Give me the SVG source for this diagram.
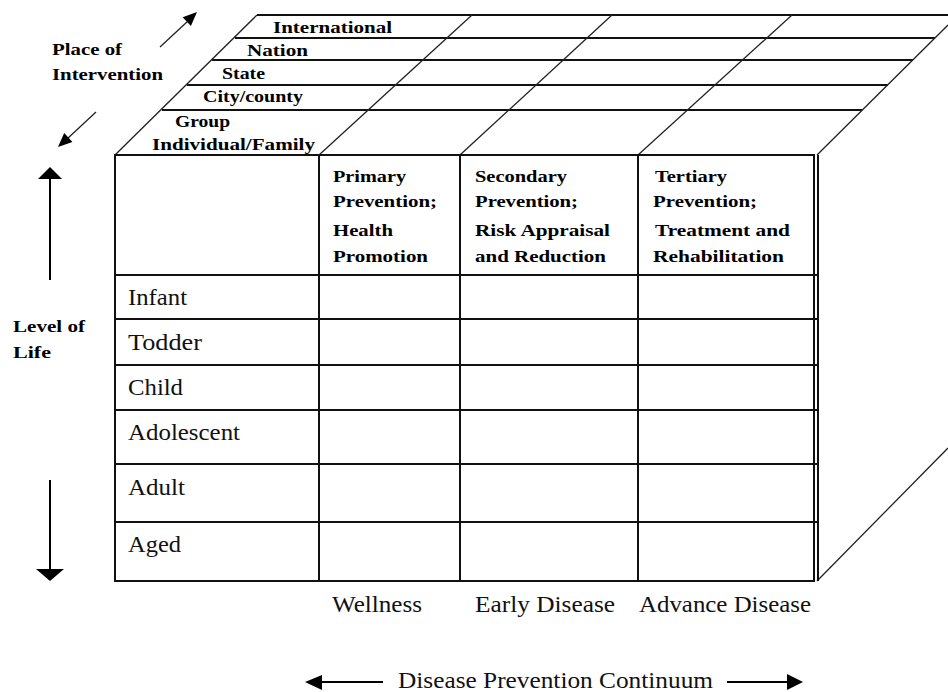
<svg xmlns="http://www.w3.org/2000/svg" width="948" height="692" viewBox="0 0 948 692">
<style>
.ln{stroke:#111;stroke-width:2;fill:none}
.sl{stroke:#222;stroke-width:1.3;fill:none}
.ar{fill:#000;stroke:none}
.b{font-family:"Liberation Serif","Times New Roman",serif;font-weight:bold;font-size:17px;fill:#000}
.r{font-family:"Liberation Serif","Times New Roman",serif;font-size:23px;fill:#111}
</style>
<rect width="948" height="692" fill="#fff"/>
<g id="top-face">
<line class="ln" x1="257" y1="15" x2="948" y2="15"/>
<line class="ln" x1="235" y1="38" x2="935" y2="38"/>
<line class="ln" x1="212" y1="60" x2="913" y2="60"/>
<line class="ln" x1="187" y1="85" x2="888" y2="85"/>
<line class="ln" x1="162" y1="110" x2="862" y2="110"/>
<line class="sl" x1="115" y1="155" x2="257" y2="15"/>
<line class="sl" x1="319" y1="155" x2="472" y2="15"/>
<line class="sl" x1="460" y1="155" x2="612" y2="15"/>
<line class="sl" x1="638" y1="155" x2="792" y2="15"/>
<line class="sl" x1="817" y1="155" x2="948" y2="25"/>
<text class="b" x="273" y="33" textLength="119" lengthAdjust="spacingAndGlyphs">International</text>
<text class="b" x="247" y="56" textLength="61" lengthAdjust="spacingAndGlyphs">Nation</text>
<text class="b" x="222" y="79" textLength="43" lengthAdjust="spacingAndGlyphs">State</text>
<text class="b" x="203" y="102" textLength="100" lengthAdjust="spacingAndGlyphs">City/county</text>
<text class="b" x="175" y="127" textLength="55" lengthAdjust="spacingAndGlyphs">Group</text>
<text class="b" x="152" y="150" textLength="163" lengthAdjust="spacingAndGlyphs">Individual/Family</text>
</g>
<g id="right-face">
<line class="sl" x1="817" y1="581" x2="948" y2="448"/>
</g>
<g id="table">
<rect class="ln" x="115" y="155" width="699" height="426"/>
<line class="ln" x1="818" y1="155" x2="818" y2="581"/>
<line class="ln" x1="319" y1="155" x2="319" y2="581"/>
<line class="ln" x1="460" y1="155" x2="460" y2="581"/>
<line class="ln" x1="638" y1="155" x2="638" y2="581"/>
<line class="ln" x1="115" y1="275" x2="818" y2="275"/>
<line class="ln" x1="115" y1="319" x2="818" y2="319"/>
<line class="ln" x1="115" y1="365" x2="818" y2="365"/>
<line class="ln" x1="115" y1="410" x2="818" y2="410"/>
<line class="ln" x1="115" y1="464" x2="818" y2="464"/>
<line class="ln" x1="115" y1="522" x2="818" y2="522"/>
<text class="b" x="333" y="182" textLength="73" lengthAdjust="spacingAndGlyphs">Primary</text>
<text class="b" x="333" y="207" textLength="104" lengthAdjust="spacingAndGlyphs">Prevention;</text>
<text class="b" x="333" y="236" textLength="60" lengthAdjust="spacingAndGlyphs">Health</text>
<text class="b" x="333" y="262" textLength="95" lengthAdjust="spacingAndGlyphs">Promotion</text>
<text class="b" x="475" y="182" textLength="92" lengthAdjust="spacingAndGlyphs">Secondary</text>
<text class="b" x="475" y="207" textLength="103" lengthAdjust="spacingAndGlyphs">Prevention;</text>
<text class="b" x="475" y="236" textLength="135" lengthAdjust="spacingAndGlyphs">Risk Appraisal</text>
<text class="b" x="475" y="262" textLength="131" lengthAdjust="spacingAndGlyphs">and Reduction</text>
<text class="b" x="655" y="182" textLength="72" lengthAdjust="spacingAndGlyphs">Tertiary</text>
<text class="b" x="653" y="207" textLength="104" lengthAdjust="spacingAndGlyphs">Prevention;</text>
<text class="b" x="655" y="236" textLength="135" lengthAdjust="spacingAndGlyphs">Treatment and</text>
<text class="b" x="653" y="262" textLength="131" lengthAdjust="spacingAndGlyphs">Rehabilitation</text>
<text class="r" x="128" y="305" textLength="59" lengthAdjust="spacingAndGlyphs">Infant</text>
<text class="r" x="128" y="350" textLength="74" lengthAdjust="spacingAndGlyphs">Todder</text>
<text class="r" x="128" y="395" textLength="55" lengthAdjust="spacingAndGlyphs">Child</text>
<text class="r" x="128" y="440" textLength="112" lengthAdjust="spacingAndGlyphs">Adolescent</text>
<text class="r" x="128" y="495" textLength="57" lengthAdjust="spacingAndGlyphs">Adult</text>
<text class="r" x="128" y="552" textLength="53" lengthAdjust="spacingAndGlyphs">Aged</text>
</g>
<g id="place-of-intervention">
<text class="b" x="52" y="55" textLength="70" lengthAdjust="spacingAndGlyphs">Place of</text>
<text class="b" x="52" y="80" textLength="111" lengthAdjust="spacingAndGlyphs">Intervention</text>
</g>
<g id="level-of-life">
<text class="b" x="13" y="332" textLength="72" lengthAdjust="spacingAndGlyphs">Level of</text>
<text class="b" x="13" y="358" textLength="38" lengthAdjust="spacingAndGlyphs">Life</text>
</g>
<g id="continuum">
<text class="r" x="332" y="612" textLength="90" lengthAdjust="spacingAndGlyphs">Wellness</text>
<text class="r" x="475" y="612" textLength="140" lengthAdjust="spacingAndGlyphs">Early Disease</text>
<text class="r" x="639" y="612" textLength="172" lengthAdjust="spacingAndGlyphs">Advance Disease</text>
<text class="r" x="398" y="688" textLength="315" lengthAdjust="spacingAndGlyphs">Disease Prevention Continuum</text>
</g>
<g id="connectors">
<line class="sl" x1="160" y1="47" x2="188" y2="21"/>
<polygon class="ar" points="197,12 190.9,26 182.7,17.2"/>
<line class="sl" x1="96" y1="112" x2="67" y2="139"/>
<polygon class="ar" points="58,147 72.4,141.9 64.2,133.1"/>
<line stroke="#000" stroke-width="2" x1="50" y1="280" x2="50" y2="176"/>
<polygon class="ar" points="50,167 62,179 38,179"/>
<line stroke="#000" stroke-width="2" x1="50" y1="480" x2="50" y2="571"/>
<polygon class="ar" points="36,569 64,569 50,581"/>
<line stroke="#000" stroke-width="2" x1="318" y1="682" x2="383" y2="682"/>
<polygon class="ar" points="305,682 322,675 322,690"/>
<line stroke="#000" stroke-width="2" x1="727" y1="682" x2="790" y2="682"/>
<polygon class="ar" points="803,682 787,674 787,690"/>
</g>
</svg>
